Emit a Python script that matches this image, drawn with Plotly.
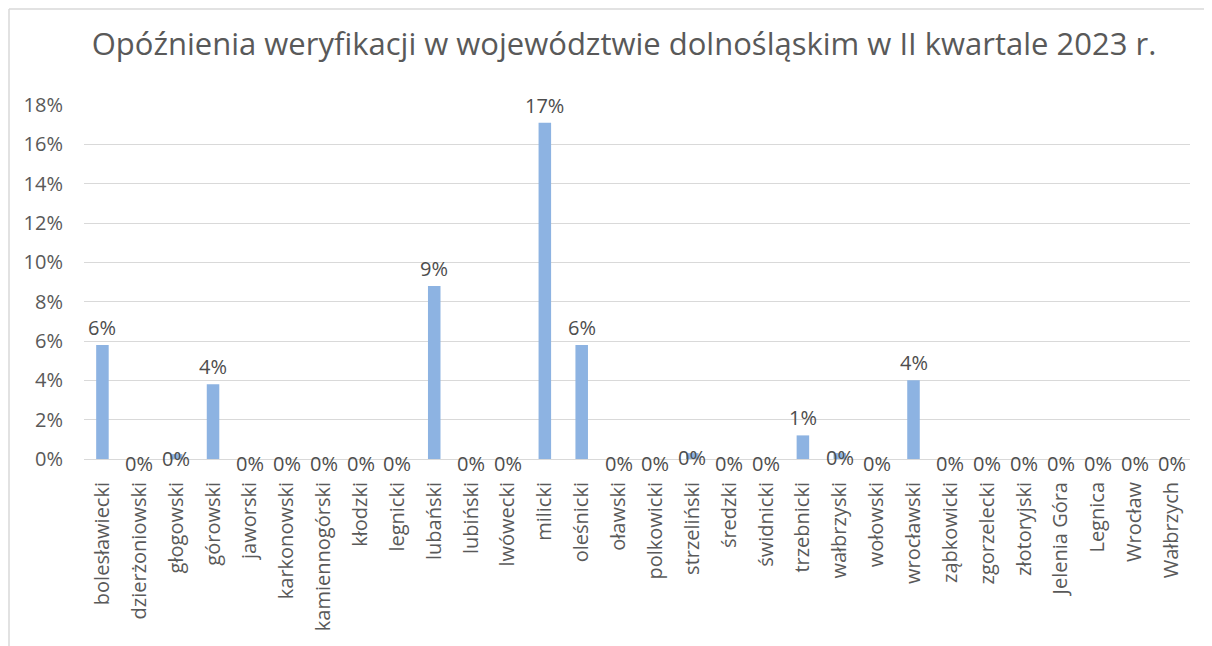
import plotly.graph_objects as go

categories = ["bolesławiecki", "dzierżoniowski", "głogowski", "górowski", "jaworski",
              "karkonowski", "kamiennogórski", "kłodzki", "legnicki", "lubański",
              "lubiński", "lwówecki", "milicki", "oleśnicki", "oławski",
              "polkowicki", "strzeliński", "średzki", "świdnicki", "trzebnicki",
              "wałbrzyski", "wołowski", "wrocławski", "ząbkowicki", "zgorzelecki",
              "złotoryjski", "Jelenia Góra", "Legnica", "Wrocław", "Wałbrzych"]
values = [0.058, 0.0, 0.0025, 0.038, 0.0,
          0.0, 0.0, 0.0, 0.0, 0.088,
          0.0, 0.0, 0.171, 0.058, 0.0,
          0.0, 0.003, 0.0, 0.0, 0.012,
          0.003, 0.0, 0.040, 0.0, 0.0,
          0.0, 0.0, 0.0, 0.0, 0.0]
y_ticks = [0, 0.02, 0.04, 0.06, 0.08, 0.10, 0.12, 0.14, 0.16, 0.18]
title_text = "Opóźnienia weryfikacji w województwie dolnośląskim w II kwartale 2023 r."

FONT = "Open Sans"
TXT = "#595959"
W, H = 1204, 638
L, R, T, B = 76, 22, 97, 187
PW, PH = W - L - R, H - T - B

fig = go.Figure()
fig.add_trace(go.Bar(x=categories, y=values, marker_color="#8db3e2",
                     marker_line_width=0, hoverinfo="skip"))

annotations = []
for c, v in zip(categories, values):
    near_zero = round(v * 100) == 0
    annotations.append(dict(
        x=c, y=v, xref="x", yref="y", text=f"{v:.0%}", showarrow=False,
        yanchor="middle" if near_zero else "bottom",
        yshift=-4 if near_zero else 2,
        font=dict(family=FONT, size=20, color="#4d4d4d")))

fx0, fx1 = (-L + 1) / PW, (W - L) / PW
fy0, fy1 = -B / PH, (PH + T - 1) / PH
border = dict(color="#d9d9d9", width=1.5)

fig.update_layout(
    width=W, height=H,
    margin=dict(l=L, r=R, t=T, b=B),
    paper_bgcolor="white", plot_bgcolor="white",
    bargap=0.66,
    showlegend=False,
    title=dict(text=title_text, x=616 / W, xanchor="center", y=1 - 36 / H,
               yanchor="middle", yref="container",
               font=dict(family=FONT, size=31, color=TXT)),
    xaxis=dict(tickangle=-90, tickfont=dict(family=FONT, size=20, color=TXT),
               showgrid=False, showline=True, linecolor="#d9d9d9", linewidth=1,
               ticks="", ticklabelstandoff=14, fixedrange=True),
    yaxis=dict(range=[0, 0.18], tickvals=y_ticks, tickformat=".0%",
               tickfont=dict(family=FONT, size=20, color=TXT),
               showgrid=True, gridcolor="#d9d9d9", gridwidth=1,
               zeroline=False, showline=False, ticks="",
               ticklabelstandoff=20, fixedrange=True),
    annotations=annotations,
    shapes=[dict(type="line", xref="paper", yref="paper",
                 x0=fx0, x1=fx0, y0=fy0, y1=fy1, line=border, layer="below"),
            dict(type="line", xref="paper", yref="paper",
                 x0=fx0, x1=fx1, y0=fy1, y1=fy1, line=border, layer="below")],
)
fig.write_html("out.html", config={"displayModeBar": False})
